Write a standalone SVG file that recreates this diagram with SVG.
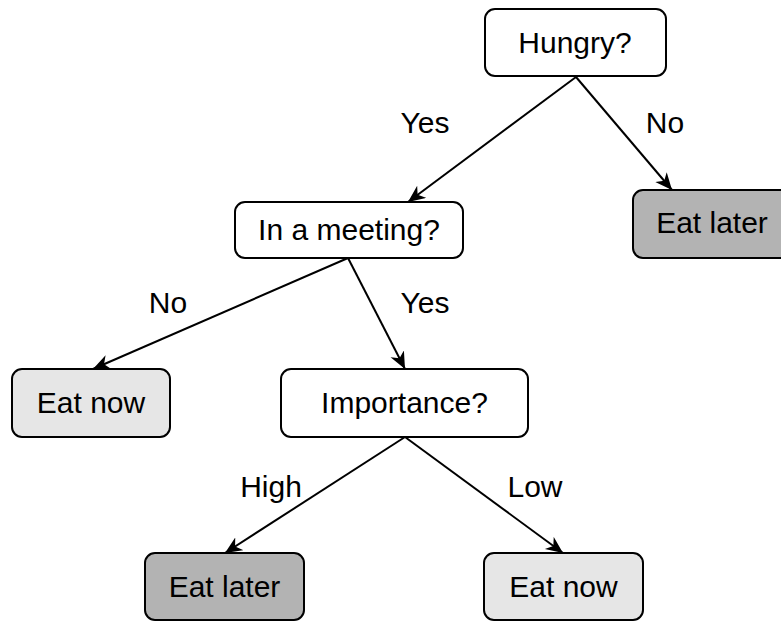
<svg xmlns="http://www.w3.org/2000/svg" width="781" height="621" viewBox="0 0 781 621">
<style>
.box{stroke:#000;stroke-width:2}
.q{fill:#fff}
.now{fill:#e6e6e6}
.later{fill:#b3b3b3}
text{font-family:"Liberation Sans",Arial,sans-serif;font-size:30px;fill:#000;text-anchor:middle}
.edge{stroke:#000;stroke-width:2;fill:none;marker-end:url(#arr)}
</style>
<defs>
<marker id="arr" markerUnits="userSpaceOnUse" markerWidth="18" markerHeight="16" refX="17" refY="7.5" orient="auto">
<path d="M0,0 L17,7.5 L0,15 L5,7.5 Z" fill="#000"/>
</marker>
</defs>
<rect width="781" height="621" fill="#fff"/>
<g id="connectors">
<line class="edge" x1="576" y1="77" x2="408" y2="202"/>
<line class="edge" x1="576" y1="77" x2="672" y2="190"/>
<line class="edge" x1="348" y1="258" x2="93" y2="369"/>
<line class="edge" x1="348" y1="258" x2="405" y2="369"/>
<line class="edge" x1="405" y1="437" x2="225" y2="553"/>
<line class="edge" x1="405" y1="437" x2="563" y2="553"/>
</g>
<g id="labels">
<text x="425" y="133">Yes</text>
<text x="665" y="133">No</text>
<text x="168" y="313">No</text>
<text x="425" y="313">Yes</text>
<text x="271" y="497">High</text>
<text x="535" y="497">Low</text>
</g>
<g id="hungry"><rect class="box q" x="485" y="9" width="181" height="67" rx="10"/><text x="575" y="53">Hungry?</text></g>
<g id="eatlater1"><rect class="box later" x="633" y="190" width="159" height="68" rx="10"/><text x="712" y="233">Eat later</text></g>
<g id="meeting"><rect class="box q" x="235" y="202" width="228" height="56" rx="10"/><text x="349" y="240">In a meeting?</text></g>
<g id="eatnow1"><rect class="box now" x="12" y="369" width="158" height="68" rx="10"/><text x="91" y="413">Eat now</text></g>
<g id="importance"><rect class="box q" x="281" y="369" width="247" height="68" rx="10"/><text x="404.5" y="413">Importance?</text></g>
<g id="eatlater2"><rect class="box later" x="145" y="553" width="159" height="67" rx="10"/><text x="224.5" y="597">Eat later</text></g>
<g id="eatnow2"><rect class="box now" x="484" y="553" width="159" height="67" rx="10"/><text x="563.5" y="597">Eat now</text></g>
</svg>
